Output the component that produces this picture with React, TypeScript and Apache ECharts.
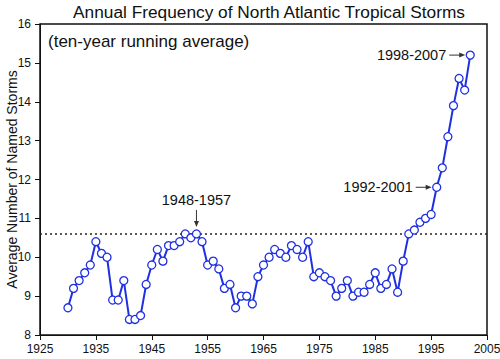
import React, { useEffect, useRef } from "react";
import * as echarts from "echarts";

const years = [
  1930, 1931, 1932, 1933, 1934, 1935, 1936, 1937, 1938, 1939,
  1940, 1941, 1942, 1943, 1944, 1945, 1946, 1947, 1948, 1949,
  1950, 1951, 1952, 1953, 1954, 1955, 1956, 1957, 1958, 1959,
  1960, 1961, 1962, 1963, 1964, 1965, 1966, 1967, 1968, 1969,
  1970, 1971, 1972, 1973, 1974, 1975, 1976, 1977, 1978, 1979,
  1980, 1981, 1982, 1983, 1984, 1985, 1986, 1987, 1988, 1989,
  1990, 1991, 1992, 1993, 1994, 1995, 1996, 1997, 1998, 1999,
  2000, 2001, 2002,
];
const storms = [
  8.7, 9.2, 9.4, 9.6, 9.8, 10.4, 10.1, 10.0, 8.9, 8.9,
  9.4, 8.4, 8.4, 8.5, 9.3, 9.8, 10.2, 9.9, 10.3, 10.3,
  10.4, 10.6, 10.5, 10.6, 10.4, 9.8, 9.9, 9.7, 9.2, 9.3,
  8.7, 9.0, 9.0, 8.8, 9.5, 9.8, 10.0, 10.2, 10.1, 10.0,
  10.3, 10.2, 10.0, 10.4, 9.5, 9.6, 9.5, 9.4, 9.0, 9.2,
  9.4, 9.0, 9.1, 9.1, 9.3, 9.6, 9.2, 9.3, 9.7, 9.1,
  9.9, 10.6, 10.7, 10.9, 11.0, 11.1, 11.8, 12.3, 13.1, 13.9,
  14.6, 14.3, 15.2,
];
const referenceLevel = 10.6;
const annotationLabels = ["1948-1957", "1992-2001", "1998-2007"];
const annotationYears = [1953, 1996, 2002];
const annotationDirs = ["down", "right", "right"];

const FONT = "'Liberation Sans', Arial, sans-serif";
const BLUE = "#1f30e0";

export default function App() {
  const ref = useRef<HTMLDivElement>(null);
  useEffect(() => {
    document.body.style.margin = "0";
    const chart = echarts.init(ref.current!, null, { renderer: "svg" });
    chart.setOption({
      animation: false,
      backgroundColor: "#fff",
      title: {
        text: "Annual Frequency of North Atlantic Tropical Storms",
        left: 264,
        textAlign: "center",
        top: -2,
        textStyle: { fontFamily: FONT, fontSize: 17.3, fontWeight: "normal", color: "#111" },
      },
      grid: {
        left: 40,
        right: 13,
        top: 24,
        bottom: 24,
        show: true,
        borderColor: "#111",
        borderWidth: 1.5,
        containLabel: false,
        outerBoundsMode: "none",
      },
      xAxis: {
        type: "value",
        min: 1925,
        max: 2005,
        interval: 10,
        axisLine: { lineStyle: { color: "#111", width: 1 } },
        axisTick: { show: true, length: 5, lineStyle: { color: "#111" } },
        axisLabel: {
          fontFamily: FONT,
          fontSize: 12,
          color: "#111",
          margin: 8,
          formatter: (v: number) => String(v),
        },
        splitLine: { show: false },
      },
      yAxis: {
        type: "value",
        min: 8,
        max: 16,
        interval: 1,
        name: "Average Number of Named Storms",
        nameLocation: "middle",
        nameGap: 21,
        nameMoveOverlap: false,
        nameTextStyle: { fontFamily: FONT, fontSize: 14, color: "#111" },
        axisLine: { show: true, lineStyle: { color: "#111", width: 1 } },
        axisTick: { show: true, length: 5, lineStyle: { color: "#111" } },
        axisLabel: { fontFamily: FONT, fontSize: 12, color: "#111", margin: 9 },
        splitLine: { show: false },
      },
      series: [
        {
          type: "line",
          data: years.map((y, i) => [y, storms[i]]),
          symbol: "circle",
          symbolSize: 8,
          showAllSymbol: true,
          lineStyle: { color: BLUE, width: 2 },
          itemStyle: { color: "#fff", borderColor: BLUE, borderWidth: 1.3 },
          z: 3,
          markLine: {
            silent: true,
            symbol: "none",
            label: { show: false },
            lineStyle: { color: "#2a2218", type: [2, 3], width: 1.5 },
            data: [{ yAxis: referenceLevel }],
            z: 1,
          },
        },
      ],
    });

    const graphics: any[] = [
      {
        type: "text",
        left: 48,
        top: 33,
        style: { text: "(ten-year running average)", font: `17px ${FONT}`, fill: "#111" },
      },
    ];
    annotationLabels.forEach((label, k) => {
      const yr = annotationYears[k];
      const v = storms[years.indexOf(yr)];
      const [px, py] = chart.convertToPixel({ gridIndex: 0 }, [yr, v]) as number[];
      if (annotationDirs[k] === "down") {
        const tipY = py - 7;
        const startY = py - 24;
        graphics.push(
          { type: "line", shape: { x1: px, y1: startY, x2: px, y2: tipY - 5 }, style: { stroke: "#333", lineWidth: 1 } },
          { type: "polygon", shape: { points: [[px, tipY], [px - 2.5, tipY - 6], [px + 2.5, tipY - 6]] }, style: { fill: "#333" } },
          { type: "text", x: px, y: startY - 2, style: { text: label, font: `14.5px ${FONT}`, fill: "#111", align: "center", verticalAlign: "bottom" } }
        );
      } else {
        const tipX = px - 5;
        const startX = px - 21;
        graphics.push(
          { type: "line", shape: { x1: startX, y1: py, x2: tipX - 5, y2: py }, style: { stroke: "#333", lineWidth: 1 } },
          { type: "polygon", shape: { points: [[tipX, py], [tipX - 6, py - 2.5], [tipX - 6, py + 2.5]] }, style: { fill: "#333" } },
          { type: "text", x: startX - 3, y: py, style: { text: label, font: `14.5px ${FONT}`, fill: "#111", align: "right", verticalAlign: "middle" } }
        );
      }
    });
    chart.setOption({ graphic: graphics });

    return () => chart.dispose();
  }, []);
  return <div ref={ref} style={{ width: 500, height: 359 }} />;
}
